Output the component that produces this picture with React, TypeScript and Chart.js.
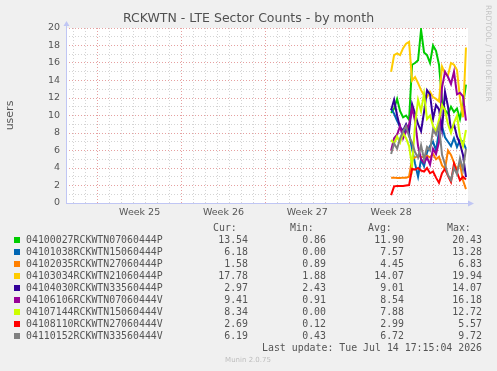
import React, { useEffect, useRef } from 'react';
import { Chart, registerables } from 'chart.js';

Chart.register(...registerables);

// ---- data ----
const chartTitle = 'RCKWTN - LTE Sector Counts - by month';
const yAxisTitle = 'users';
const sideText = 'RRDTOOL / TOBI OETIKER';
const footerText = 'Munin 2.0.75';
const lastUpdate = 'Last update: Tue Jul 14 17:15:04 2026';

const weekCenters = [3.5, 10.5, 17.5, 24.5];
const weekLabels = ['Week 25', 'Week 26', 'Week 27', 'Week 28'];
const xMin = -2.647;
const xMax = 30.92;
const yMin = 0;
const yMax = 20;

const seriesNames = [
  '04100027RCKWTN07060444P',
  '04101038RCKWTN15060444P',
  '04102035RCKWTN27060444P',
  '04103034RCKWTN21060444P',
  '04104030RCKWTN33560444P',
  '04106106RCKWTN07060444V',
  '04107144RCKWTN15060444V',
  '04108110RCKWTN27060444V',
  '04110152RCKWTN33560444V',
];
const seriesColors = ['#00cc00', '#0066b3', '#ff8000', '#ffcc00', '#330099', '#990099', '#ccff00', '#ff0000', '#808080'];
const curValues = ['13.54', '6.18', '1.58', '17.78', '2.97', '9.41', '8.34', '2.69', '6.19'];
const minValues = ['0.86', '0.00', '0.89', '1.88', '2.43', '0.91', '0.00', '0.12', '0.43'];
const avgValues = ['11.90', '7.57', '4.45', '14.07', '9.01', '8.54', '7.88', '2.99', '6.72'];
const maxValues = ['20.43', '13.28', '6.83', '19.94', '14.07', '16.18', '12.72', '5.57', '9.72'];

const times = [24.5, 24.75, 25, 25.25, 25.5, 25.75, 26, 26.25, 26.5, 26.75, 27, 27.25, 27.5, 27.75, 28, 28.25, 28.5, 28.75, 29, 29.25, 29.5, 29.75, 30, 30.25, 30.5, 30.75];

const green = [10.3, 10.8, 11.9, 10.5, 9.8, 10.0, 9.5, 15.8, 16.0, 16.3, 19.8, 17.2, 16.9, 16.0, 18.0, 17.4, 15.8, 11.8, 10.6, 10.2, 11.0, 10.4, 10.8, 9.6, 11.2, 13.54];
const blue = [10.8, 10.2, 9.4, 8.7, 8.0, 8.4, 7.9, 6.2, 4.5, 3.0, 5.0, 4.2, 5.8, 6.5, 7.0, 6.0, 8.2, 8.8, 7.5, 7.0, 6.5, 7.4, 6.4, 7.2, 7.0, 6.18];
const orange = [2.9, 2.9, 2.85, 2.85, 2.9, 2.9, 3.0, 5.0, 5.2, 5.4, 5.3, 5.2, 5.4, 5.2, 5.6, 5.0, 5.3, 4.3, 3.9, 6.0, 5.5, 4.6, 3.8, 4.5, 2.6, 1.58];
const yellow = [15.0, 16.9, 17.1, 16.9, 17.7, 18.2, 18.4, 14.0, 14.4, 13.7, 12.9, 12.3, 12.1, 12.7, 12.1, 11.9, 11.6, 15.6, 14.8, 14.6, 16.0, 15.8, 15.2, 12.0, 9.8, 17.78];
const indigo = [10.6, 11.8, 10.0, 8.6, 8.3, 9.0, 8.2, 11.3, 10.2, 9.0, 8.2, 10.4, 12.9, 12.4, 9.6, 11.2, 10.7, 8.4, 12.7, 11.0, 8.3, 9.0, 7.6, 6.8, 5.5, 2.97];
const purple = [6.0, 7.4, 7.8, 8.8, 7.4, 8.2, 9.0, 10.8, 9.4, 6.5, 5.0, 4.6, 5.2, 4.4, 6.2, 5.6, 7.0, 13.2, 15.0, 14.4, 13.6, 15.0, 12.4, 12.6, 12.2, 9.41];
const lime = [7.2, 6.8, 7.6, 6.9, 8.0, 7.4, 6.5, 4.2, 9.0, 11.8, 10.5, 12.5, 9.6, 10.0, 8.8, 8.2, 9.5, 11.2, 10.6, 9.0, 8.0, 9.2, 10.0, 7.6, 6.5, 8.34];
const red = [0.9, 1.9, 1.95, 1.95, 1.95, 2.0, 2.05, 3.9, 3.8, 4.0, 3.7, 3.6, 4.0, 3.4, 3.6, 2.9, 2.3, 3.4, 3.9, 3.1, 2.4, 4.5, 3.5, 2.6, 3.0, 2.69];
const gray = [5.6, 6.8, 6.2, 7.4, 8.2, 8.8, 7.6, 6.9, 5.8, 5.2, 6.6, 5.0, 6.4, 6.0, 8.4, 7.8, 8.9, 5.5, 4.4, 3.2, 2.6, 4.0, 3.3, 5.1, 3.8, 6.19];

const seriesValues = [green, blue, orange, yellow, indigo, purple, lime, red, gray];

// ---- styles ----
const W = 497;
const H = 371;
const MAJOR = '#e6a0a0';
const MINOR = '#d4d4d4';
const AXIS = '#c0c6f4';
const TEXT = '#555555';
const SANS = '"DejaVu Sans", sans-serif';
const MONO = '"DejaVu Sans Mono", monospace';

const xTickValues: number[] = [];
for (let d = Math.ceil(xMin); d <= Math.floor(xMax); d++) xTickValues.push(d);
weekCenters.forEach((c) => xTickValues.push(c));
xTickValues.sort((a, b) => a - b);
const yTickValues: number[] = [];
for (let v = yMin; v <= yMax; v++) yTickValues.push(v);

const muninPlugin = {
  id: 'muninDecor',
  beforeDraw(chart: any) {
    const { ctx, chartArea: a } = chart;
    ctx.save();
    ctx.fillStyle = '#f0f0f0';
    ctx.fillRect(0, 0, chart.width, chart.height);
    ctx.fillStyle = '#ffffff';
    ctx.fillRect(a.left, a.top, a.right - a.left, a.bottom - a.top);
    ctx.restore();
  },
  afterDraw(chart: any) {
    const { ctx, chartArea: a } = chart;
    ctx.save();
    // axes
    ctx.strokeStyle = AXIS;
    ctx.fillStyle = AXIS;
    ctx.lineWidth = 1;
    ctx.beginPath();
    ctx.moveTo(a.left + 0.5, a.bottom);
    ctx.lineTo(a.left + 0.5, a.top - 4);
    ctx.moveTo(a.left, a.bottom + 0.5);
    ctx.lineTo(a.right + 2, a.bottom + 0.5);
    ctx.stroke();
    ctx.beginPath();
    ctx.moveTo(a.left - 2.5, a.top - 2);
    ctx.lineTo(a.left + 3.5, a.top - 2);
    ctx.lineTo(a.left + 0.5, a.top - 7);
    ctx.closePath();
    ctx.fill();
    ctx.beginPath();
    ctx.moveTo(a.right, a.bottom - 2.5);
    ctx.lineTo(a.right, a.bottom + 3.5);
    ctx.lineTo(a.right + 6, a.bottom + 0.5);
    ctx.closePath();
    ctx.fill();

    // title
    ctx.fillStyle = '#505050';
    ctx.font = `12.5px ${SANS}`;
    ctx.textAlign = 'center';
    ctx.textBaseline = 'middle';
    ctx.fillText(chartTitle, 248.5, 19);

    // side text
    ctx.save();
    ctx.translate(488, 5);
    ctx.rotate(Math.PI / 2);
    ctx.fillStyle = '#c4c4c4';
    ctx.font = `7.5px ${SANS}`;
    ctx.textAlign = 'left';
    ctx.textBaseline = 'middle';
    ctx.fillText(sideText, 0, 0);
    ctx.restore();

    // legend
    ctx.font = `9.9px ${MONO}`;
    ctx.textBaseline = 'middle';
    ctx.fillStyle = TEXT;
    ctx.textAlign = 'left';
    ctx.fillText('Cur:', 213, 228);
    ctx.fillText('Min:', 290, 228);
    ctx.fillText('Avg:', 368, 228);
    ctx.fillText('Max:', 447, 228);
    seriesNames.forEach((name, i) => {
      const y = 240 + 12 * i;
      ctx.fillStyle = seriesColors[i];
      ctx.fillRect(14, y - 3, 6, 6);
      ctx.fillStyle = TEXT;
      ctx.textAlign = 'left';
      ctx.fillText(name, 26, y);
      ctx.textAlign = 'right';
      ctx.fillText(curValues[i], 248, y);
      ctx.fillText(minValues[i], 326, y);
      ctx.fillText(avgValues[i], 404, y);
      ctx.fillText(maxValues[i], 482, y);
    });
    ctx.textAlign = 'right';
    ctx.fillText(lastUpdate, 482, 348);

    ctx.font = `7px ${SANS}`;
    ctx.fillStyle = '#bdbdbd';
    ctx.textAlign = 'center';
    ctx.fillText(footerText, 248, 360);
    ctx.restore();
  },
};

export default function App() {
  const ref = useRef<HTMLCanvasElement | null>(null);

  useEffect(() => {
    if (!ref.current) return;
    const datasets = seriesNames.map((name, i) => ({
      label: name,
      data: times.map((t, j) => ({ x: t, y: seriesValues[i][j] })),
      borderColor: seriesColors[i],
      backgroundColor: seriesColors[i],
      borderWidth: 2,
      pointRadius: 0,
      tension: 0,
      fill: false,
      order: seriesNames.length - 1 - i,
    }));

    const chart = new Chart(ref.current, {
      type: 'line',
      data: { datasets },
      plugins: [muninPlugin],
      options: {
        animation: false,
        responsive: false,
        devicePixelRatio: 1,
        layout: { padding: { left: 0, right: 29, top: 28, bottom: 148 } },
        plugins: {
          legend: { display: false },
          title: { display: false },
          tooltip: { enabled: false },
        },
        scales: {
          x: {
            type: 'linear',
            min: xMin,
            max: xMax,
            afterBuildTicks: (scale: any) => {
              scale.ticks = xTickValues.map((v) => ({ value: v }));
            },
            afterFit: (scale: any) => {
              scale.height = 20;
            },
            ticks: {
              autoSkip: false,
              maxRotation: 0,
              minRotation: 0,
              padding: 4,
              color: TEXT,
              font: { family: SANS, size: 9.5 },
              callback: (value: any) => {
                const k = weekCenters.indexOf(Number(value));
                return k >= 0 ? weekLabels[k] : '';
              },
            },
            grid: {
              drawTicks: false,
              lineWidth: 1,
              color: (c: any) => {
                const v = c.tick ? c.tick.value : 0;
                if (!Number.isInteger(v)) return 'rgba(0,0,0,0)';
                return v % 7 === 0 ? MAJOR : MINOR;
              },
            },
            border: { display: false, dash: [1, 2] },
          },
          y: {
            type: 'linear',
            min: yMin,
            max: yMax,
            afterBuildTicks: (scale: any) => {
              scale.ticks = yTickValues.map((v) => ({ value: v }));
            },
            afterFit: (scale: any) => {
              scale.width = 66;
            },
            ticks: {
              autoSkip: false,
              padding: 6,
              color: TEXT,
              font: { family: SANS, size: 9.5 },
              callback: (value: any) => (Number(value) % 2 === 0 ? String(value) : ''),
            },
            grid: {
              drawTicks: false,
              lineWidth: 1,
              color: (c: any) => {
                const v = c.tick ? c.tick.value : 0;
                return v % 2 === 0 ? MAJOR : MINOR;
              },
            },
            border: { display: false, dash: [1, 2] },
            title: {
              display: true,
              text: yAxisTitle,
              color: TEXT,
              font: { family: SANS, size: 11 },
              padding: { top: 4, bottom: 0 },
            },
          },
        },
      },
    });
    return () => chart.destroy();
  }, []);

  return (
    <div style={{ position: 'absolute', left: 0, top: 0, width: W, height: H }}>
      <canvas ref={ref} width={W} height={H} style={{ display: 'block', width: W, height: H }} />
    </div>
  );
}
